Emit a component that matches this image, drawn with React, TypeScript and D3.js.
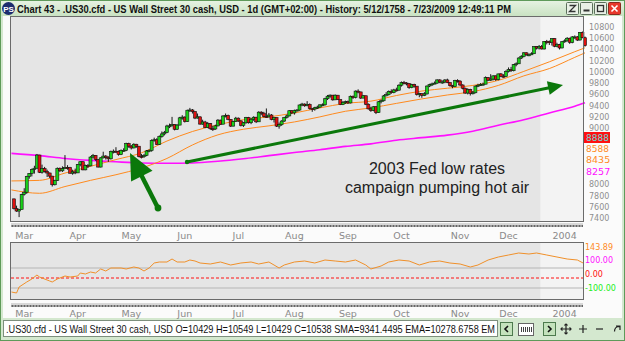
import React from 'react';
import * as d3 from 'd3';

const W = 625;
const H = 341;

// Daily OHLC, 10 Mar 2003 .. 28 Jan 2004
const opens = [
  7740,7568,7524,7552,7821,7859,8141,8194,8266,8286,8521,8214,8280,8229,8201,8145,
  7992,8069,8285,8240,8277,8300,8298,8197,8221,8203,8351,8402,8257,8337,8328,8485,8516,8440,8307,8471,8502,
  8480,8454,8583,8589,8588,8531,8604,8604,8726,8679,8647,8713,8678,8493,8491,8516,8594,8601,8781,8793,8711,
  8850,8897,8922,9038,9041,9062,8980,9054,9183,9196,9117,9318,9323,9293,9179,9200,9072,9109,9011,9079,8989,
  8985,9040,9142,9070,9216,9224,9156,9036,9119,9177,9128,9050,9094,9188,9096,9158,9194,9112,9284,9266,9204,9200,
  9233,9153,9186,9036,9061,9126,9191,9217,9310,9271,9310,9321,9412,9428,9398,9423,9348,9340,9363,9374,9415,
  9415,9523,9568,9587,9503,9586,9507,9420,9459,9471,9448,9567,9545,9659,9644,9535,9576,9425,9343,9313,9380,
  9275,9469,9487,9573,9595,9655,9631,9680,9675,9764,9812,9803,9792,9721,9777,9747,9598,9613,9582,9608,9749,9774,9787,
  9801,9858,9820,9820,9857,9810,9756,9738,9848,9837,9768,9710,9624,9690,9619,9629,9748,9763,9779,
  9782,9899,9853,9873,9930,9862,9965,9923,9921,10008,10042,10022,10129,10145,10248,10278,10341,10305,10305,10324,10450,10425,
  10454,10409,10544,10538,10529,10592,10458,10485,10427,10538,10553,10600,10528,10623,10623,10568,10702,10609,
];
const highs = [
  7745,7620,7560,7830,7930,8150,8200,8280,8330,8540,8525,8350,8310,8260,8210,8150,
  8080,8300,8300,8320,8520,8340,8310,8260,8280,8360,8410,8410,8350,8360,8500,8540,8520,8450,8480,8580,8520,
  8500,8600,8620,8660,8600,8620,8640,8740,8740,8700,8730,8720,8680,8540,8540,8610,8620,8800,8830,8820,8870,
  8940,8950,9060,9080,9200,9070,9070,9200,9230,9210,9330,9360,9340,9300,9260,9210,9150,9130,9110,9090,9040,
  9060,9160,9150,9230,9260,9240,9160,9130,9200,9190,9140,9110,9200,9200,9180,9210,9200,9300,9300,9290,9350,9270,
  9250,9200,9190,9100,9140,9200,9240,9320,9320,9330,9340,9420,9450,9440,9480,9440,9360,9380,9400,9420,9440,
  9540,9590,9600,9590,9600,9590,9510,9480,9490,9490,9580,9580,9670,9690,9650,9590,9580,9440,9380,9390,9390,
  9480,9510,9590,9640,9670,9690,9700,9720,9780,9830,9840,9820,9800,9790,9790,9750,9630,9620,9640,9760,9790,9810,9830,
  9870,9870,9850,9870,9880,9820,9770,9860,9870,9850,9780,9720,9710,9700,9660,9760,9790,9800,9810,
  9920,9910,9960,9940,9940,9970,9980,9960,10030,10080,10090,10140,10170,10260,10300,10350,10350,10330,10350,10460,10460,10480,
  10480,10550,10570,10560,10600,10600,10520,10500,10550,10580,10620,10610,10640,10650,10640,10710,10720,10630,
];
const lows = [
  7550,7510,7416,7550,7800,7830,8100,8140,8190,8280,8200,8190,8210,8130,8110,7960,
  7980,8060,8220,8220,8280,8260,8190,8170,8180,8200,8320,8250,8250,8290,8320,8460,8420,8300,8300,8460,8440,
  8400,8440,8550,8560,8510,8520,8580,8590,8650,8620,8640,8650,8480,8460,8470,8500,8570,8580,8760,8700,8700,
  8830,8870,8910,9000,9030,8960,8970,9050,9150,9100,9110,9290,9260,9160,9170,9060,9060,9000,9000,8970,8950,
  8970,9030,9060,9070,9190,9140,9020,9030,9110,9110,9030,9020,9080,9080,9070,9130,9090,9110,9230,9190,9180,9190,
  9140,9100,9020,8990,9040,9110,9170,9210,9250,9240,9300,9310,9390,9380,9390,9330,9290,9310,9340,9360,9390,
  9400,9500,9540,9490,9500,9500,9410,9410,9430,9430,9440,9520,9530,9620,9520,9530,9410,9330,9290,9300,9250,
  9270,9440,9470,9570,9580,9610,9620,9650,9670,9740,9780,9760,9700,9710,9720,9580,9550,9540,9570,9600,9730,9750,9780,
  9790,9800,9790,9800,9800,9740,9710,9730,9810,9750,9690,9610,9600,9580,9600,9620,9730,9750,9760,
  9780,9840,9840,9850,9840,9850,9910,9900,9910,9990,10000,10010,10100,10140,10230,10260,10290,10280,10300,10320,10400,10400,
  10400,10400,10490,10480,10470,10440,10440,10400,10420,10520,10540,10500,10510,10590,10550,10560,10600,10450,
];
const closes = [
  7568,7524,7552,7821,7859,8141,8194,8266,8286,8521,8214,8280,8229,8201,8145,7992,
  8069,8285,8240,8277,8300,8298,8197,8221,8203,8351,8402,8257,8337,8328,8485,8516,8440,8307,8471,8502,8480,
  8454,8583,8589,8588,8531,8604,8604,8726,8679,8647,8713,8678,8493,8491,8516,8594,8601,8781,8793,8711,8850,
  8897,8922,9038,9041,9062,8980,9054,9183,9196,9117,9318,9323,9293,9179,9200,9072,9109,9011,9079,8989,8985,
  9040,9142,9070,9216,9224,9156,9036,9119,9177,9128,9050,9094,9188,9096,9158,9194,9112,9284,9266,9204,9200,9233,
  9153,9186,9036,9061,9126,9191,9217,9310,9271,9310,9321,9412,9428,9398,9423,9348,9340,9363,9374,9415,9415,
  9523,9568,9587,9503,9586,9507,9420,9459,9471,9448,9567,9545,9659,9644,9535,9576,9425,9343,9313,9380,9275,
  9469,9487,9573,9595,9655,9631,9680,9675,9764,9812,9803,9792,9721,9777,9747,9598,9613,9582,9608,9749,9774,9787,9801,
  9858,9820,9820,9857,9810,9756,9738,9848,9837,9768,9710,9624,9690,9619,9629,9748,9763,9779,9782,
  9899,9853,9873,9930,9862,9965,9923,9921,10008,10042,10022,10129,10145,10248,10278,10341,10305,10305,10324,10450,10425,10454,
  10409,10544,10538,10529,10592,10458,10485,10427,10538,10553,10600,10528,10623,10623,10568,10702,10609,10468,
];

// Moving averages sampled along the bar index
const maIdx = [-1,10,20,30,40,50,60,70,80,90,100,110,120,130,140,150,160,170,180,190,200,210,220,224];
const emaFast = [8060,8070,8200,8320,8440,8560,8770,8940,9060,9150,9200,9270,9360,9440,9480,9580,9660,9710,9760,9850,10010,10180,10360,10430];
const emaSlow = [7900,7840,7960,8070,8170,8290,8460,8700,8880,8980,9040,9110,9200,9300,9360,9440,9520,9590,9650,9760,9930,10060,10260,10340];
const sma200 = [8550,8510,8460,8425,8400,8380,8375,8380,8410,8455,8510,8565,8615,8675,8720,8785,8830,8875,8945,9050,9150,9270,9390,9450];

// Oscillator (lower pane)
const oscIdx = [-1,1,2,5,7,9,10,11,14,15,17,20,22,25,26,28,30,32,34,36,38,42,44,47,49,51,53,55,57,60,62,64,67,69,71,73,
  77,81,85,89,93,96,100,104,106,110,114,118,122,126,130,134,138,140,144,147,151,155,159,163,167,171,175,179,182,186,190,194,198,202,205,209,213,217,221,224];
const oscVals = [-140,-150,-90,-40,-10,30,10,0,-30,-40,-10,20,10,20,50,40,60,50,90,70,100,100,90,110,100,70,100,150,160,160,190,160,160,180,170,150,
  140,160,130,150,160,140,160,100,130,160,170,150,180,170,160,180,130,90,120,160,180,170,130,160,170,150,140,110,130,180,210,230,250,240,250,230,210,190,180,140];

const priceTicks = d3.range(7400, 10801, 200);
// tick labels covered by the last-value markers are not drawn
const coveredTicks = [8200, 8400, 8600, 8800];
const monthNames = ['Mar','Apr','May','Jun','Jul','Aug','Sep','Oct','Nov','Dec','2004'];
const monthStartIdx = [-5,16,37,58,79,101,122,143,166,185,207];
const newYearIdx = 207;

const titleText = 'Chart 43 - .US30.cfd - US Wall Street 30 cash, USD - 1d (GMT+02:00) - History: 5/12/1758 - 7/23/2009 12:49:11 PM';
const statusText = '.US30.cfd - US Wall Street 30 cash, USD O=10429 H=10549 L=10429 C=10538  SMA=9341.4495 EMA=10278.6758 EM';
const noteLines = ['2003 Fed low rates', 'campaign pumping hot air'];

const UI = '"Liberation Sans", Arial, sans-serif';
const AX = '"DejaVu Sans", Verdana, sans-serif';

export default function App() {
  const P1 = { l: 11, r: 583, t: 17, b: 221 };
  const P2 = { l: 11, r: 583, t: 243, b: 299 };
  const x = d3.scaleLinear().domain([0, 224]).range([14, 585]);
  const y = d3.scaleLinear().domain([7400, 10800]).range([218, 27]);
  const yo = d3.scaleLinear().domain([-100, 100]).range([288, 268]);

  const maLine = (vals: number[]) =>
    d3.line<number>().x((_, i) => x(maIdx[i])).y(v => y(v)).curve(d3.curveMonotoneX)(vals) || '';
  const oscPath = d3.line<number>().x((_, i) => x(oscIdx[i])).y(v => yo(v))(oscVals) || '';

  const shadeX = x(newYearIdx) - 1.3;
  const green = '#0b780b';

  // arrow: shaft from (x1,y1) to the base of a triangular head at (x2,y2)
  const arrow = (x1: number, y1: number, x2: number, y2: number, len: number, half: number, w: number, r: number) => {
    const dx = x2 - x1, dy = y2 - y1, L = Math.hypot(dx, dy);
    const ux = dx / L, uy = dy / L;
    const bx = x2 - ux * len, by = y2 - uy * len;
    return (
      <g>
        <line x1={x1} y1={y1} x2={bx + ux * 1} y2={by + uy * 1} stroke={green} strokeWidth={w} />
        <path d={`M${x2},${y2}L${bx - uy * half},${by + ux * half}L${bx + uy * half},${by - ux * half}Z`} fill={green} />
        <circle cx={x1} cy={y1} r={r} fill={green} />
      </g>
    );
  };

  const candles = closes.map((c, i) => {
    const o = opens[i];
    const cx = x(i);
    const top = y(Math.max(o, c));
    const bot = y(Math.min(o, c));
    return (
      <g key={i}>
        <line x1={cx} x2={cx} y1={y(highs[i])} y2={y(lows[i])} stroke="#000" strokeWidth={0.9} />
        <rect x={cx - 1.5} y={top} width={3} height={Math.max(1, bot - top)}
          fill={c >= o ? '#19d219' : '#e01010'} stroke="#111" strokeWidth={0.6} />
      </g>
    );
  });

  const splitter = (yy: number) => (
    <g>
      <rect x={P1.l} y={yy} width={P1.r - P1.l} height={4} fill="#d8d8d8" />
      <rect x={P1.l} y={yy} width={P1.r - P1.l} height={4} fill="url(#dots)" />
    </g>
  );

  const monthAxis = (yy: number) =>
    monthNames.map((m, i) => (
      <text key={m + yy} x={x(monthStartIdx[i] + 9)} y={yy} textAnchor="middle"
        fontFamily={AX} fontSize={9.5} fill="#8a8a8a">{m}</text>
    ));

  return (
    <svg width={W} height={H} style={{ position: 'absolute', left: 0, top: 0 }}>
      <defs>
        <linearGradient id="tbar" x1="0" y1="0" x2="0" y2="1">
          <stop offset="0" stopColor="#e6f2e2" />
          <stop offset="1" stopColor="#c9e2c2" />
        </linearGradient>
        <pattern id="dots" width={3} height={4} patternUnits="userSpaceOnUse" x={P1.l} y={0}>
          <rect x={0.5} y={1} width={2} height={2} fill="#666" />
        </pattern>
        <clipPath id="p1clip"><rect x={P1.l} y={P1.t} width={P1.r - P1.l + 4} height={P1.b - P1.t} /></clipPath>
        <clipPath id="p2clip"><rect x={P2.l} y={P2.t} width={P2.r - P2.l} height={P2.b - P2.t} /></clipPath>
      </defs>

      {/* window frame */}
      <rect x={0} y={0} width={W} height={H} fill="#d4e8cf" />
      <rect x={0.5} y={0.5} width={W - 1} height={H - 1} fill="none" stroke="#5f9a5a" />
      <rect x={1} y={1} width={W - 2} height={15} fill="url(#tbar)" />
      <rect x={3} y={16} width={W - 6} height={302} fill="#fbfbfb" />

      {/* title bar */}
      <circle cx={8.5} cy={8.5} r={6.5} fill="#1d2c6e" />
      <text x={8.5} y={11.5} textAnchor="middle" fontFamily={UI} fontSize={8} fontWeight="bold" fill="#fff">PS</text>
      <text x={17} y={12.5} fontFamily={UI} fontSize={11} fontWeight="bold" fill="#111"
        textLength={494} lengthAdjust="spacingAndGlyphs">{titleText}</text>
      {[566, 580, 594].map((bx, i) => (
        <g key={bx}>
          <rect x={bx + 0.5} y={2.5} width={12} height={12} fill="#e9f0e6" stroke="#5b6f5b" rx={1} />
          {i === 0 && <path d={`M${bx + 3.5},${5.5}h6l-6,6h6`} fill="none" stroke="#333" strokeWidth={1.3} />}
          {i === 1 && <rect x={bx + 3.5} y={9.5} width={6} height={2} fill="#333" />}
          {i === 2 && <rect x={bx + 3.5} y={5.5} width={6} height={6} fill="none" stroke="#333" strokeWidth={1.3} />}
        </g>
      ))}
      <rect x={608.5} y={2.5} width={12} height={12} fill="#e8392c" stroke="#8a2a20" rx={1} />
      <path d="M611.5,5.5l6,6M617.5,5.5l-6,6" stroke="#fff" strokeWidth={1.6} />

      {/* price pane */}
      <rect x={P1.l} y={P1.t} width={P1.r - P1.l} height={P1.b - P1.t} fill="#e5e5e5" />
      <rect x={shadeX} y={P1.t} width={P1.r - shadeX} height={P1.b - P1.t} fill="#f3f3f3" />

      <g clipPath="url(#p1clip)">
        <path d={maLine(sma200)} fill="none" stroke="#ff10ff" strokeWidth={1.6} />
        <path d={maLine(emaSlow)} fill="none" stroke="#ff8a1e" strokeWidth={1} />
        <path d={maLine(emaFast)} fill="none" stroke="#ff8a1e" strokeWidth={1} />
        {candles}
      </g>

      {/* annotations */}
      {arrow(158, 208, 130, 153, 26, 12, 4.5, 3.4)}
      {arrow(187, 162, 563, 85, 15, 7, 3, 2.2)}

      {noteLines.map((t, i) => (
        <text key={t} x={437} y={174 + i * 19} textAnchor="middle" fontFamily={UI} fontSize={16} fill="#222">{t}</text>
      ))}

      <rect x={P1.l - 0.5} y={P1.t - 0.5} width={P1.r - P1.l + 1} height={P1.b - P1.t + 1} fill="none" stroke="#6b6b6b" />

      {/* price axis */}
      {priceTicks.filter(v => !coveredTicks.includes(v)).map(v => (
        <text key={v} x={589} y={y(v) + 3} fontFamily={AX} fontSize={8} fill="#8f8f8f">{v}</text>
      ))}
      <rect x={584} y={132} width={26} height={11} fill="#ff1010" />
      <text x={586} y={141} fontFamily={AX} fontSize={9} fill="#6fd8d8">8888</text>
      <text x={586} y={151.5} fontFamily={AX} fontSize={9} fill="#ff8a1e">8588</text>
      <text x={586} y={162.5} fontFamily={AX} fontSize={9.5} fill="#ff8a1e">8435</text>
      <text x={586} y={175} fontFamily={AX} fontSize={9.5} fill="#ff10ff">8257</text>

      {/* splitter and dates */}
      {splitter(223)}
      {monthAxis(239)}

      {/* oscillator pane */}
      <rect x={P2.l} y={P2.t} width={P2.r - P2.l} height={P2.b - P2.t} fill="#e5e5e5" />
      <rect x={shadeX} y={P2.t} width={P2.r - shadeX} height={P2.b - P2.t} fill="#f3f3f3" />
      <line x1={P2.l} x2={P2.r} y1={yo(100)} y2={yo(100)} stroke="#b5b5b5" />
      <line x1={P2.l} x2={P2.r} y1={yo(-100)} y2={yo(-100)} stroke="#b5b5b5" />
      <line x1={P2.l} x2={P2.r} y1={yo(0)} y2={yo(0)} stroke="#ff1010" strokeDasharray="3,2" />
      <g clipPath="url(#p2clip)">
        <path d={oscPath} fill="none" stroke="#f0902a" strokeWidth={1} />
      </g>
      <rect x={P2.l - 0.5} y={P2.t - 0.5} width={P2.r - P2.l + 1} height={P2.b - P2.t + 1} fill="none" stroke="#6b6b6b" />

      <text x={585} y={250} fontFamily={AX} fontSize={8} fill="#ff8a1e">143.89</text>
      <text x={585} y={263} fontFamily={AX} fontSize={8} fill="#ff10ff">100.00</text>
      <text x={585} y={277} fontFamily={AX} fontSize={8} fill="#ff1010">0.00</text>
      <text x={585} y={291} fontFamily={AX} fontSize={8} fill="#22ee22">-100.00</text>

      {splitter(303)}
      {monthAxis(317)}

      {/* status bar */}
      <rect x={3.5} y={320.5} width={494} height={16} fill="#fff" stroke="#7d8f7d" />
      <text x={6} y={332.5} fontFamily={UI} fontSize={10.5} fill="#111"
        textLength={489} lengthAdjust="spacingAndGlyphs">{statusText}</text>
      <rect x={500.5} y={322.5} width={12} height={13} fill="#c4e2bc" stroke="#4d7a4d" />
      <path d="M508,326l-3,3l3,3" fill="none" stroke="#111" strokeWidth={1.6} />
      <rect x={518.5} y={323.5} width={15} height={12} fill="#fff" stroke="#666" />
      {[521, 523, 525, 527, 529, 531].map(lx => (
        <line key={lx} x1={lx + 0.5} x2={lx + 0.5} y1={327} y2={332} stroke="#444" />
      ))}
      <rect x={543.5} y={322.5} width={12} height={13} fill="#c4e2bc" stroke="#4d7a4d" />
      <path d="M548,326l3,3l-3,3" fill="none" stroke="#111" strokeWidth={1.6} />
      <g stroke="#222" strokeWidth={1.2} fill="none">
        <path d="M566,324v10M561,329h10" />
        <path d="M564.5,325.5l1.5,-1.5l1.5,1.5M564.5,332.5l1.5,1.5l1.5,-1.5M562.5,327.5l-1.5,1.5l1.5,1.5M569.5,327.5l1.5,1.5l-1.5,1.5" />
        <path d="M583,325v8M579,329h8" />
        <path d="M596,329h7" />
        <path d="M620,330v-4h-4M619.5,326.5c-3,0-5,2-5,5" />
      </g>
    </svg>
  );
}
